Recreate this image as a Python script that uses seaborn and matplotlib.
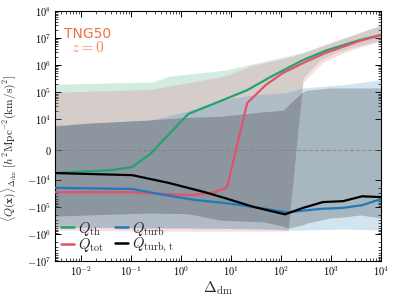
import numpy as np
import pandas as pd
import matplotlib
matplotlib.use("Agg")
import matplotlib.pyplot as plt
import seaborn as sns
from matplotlib.ticker import SymmetricalLogLocator, LogLocator, NullFormatter, FixedLocator, FixedFormatter
from matplotlib.lines import Line2D

# ---------------- data ----------------
th_x = [3.0e-3, 0.042, 0.105, 0.24, 1.38, 7.6, 21, 60, 275, 830, 3800, 1e4]
th_y = [-7.8e3, -6.8e3, -5.8e3, -1.5e3, 1.58e4, 5.6e4, 1.2e5, 3.6e5, 1.55e6, 3.6e6, 8.5e6, 1.3e7]

tot_x = [3.0e-3, 0.105, 0.48, 1.66, 4.8, 8.3, 21, 50, 110, 275, 760, 3800, 1e4]
tot_y = [-2.9e4, -2.9e4, -3.4e4, -3.7e4, -2.9e4, -1.9e4, 4.0e4, 1.9e5, 5.2e5, 1.2e6, 2.8e6, 8.0e6, 1.3e7]

turb_x = [3.0e-3, 0.105, 0.48, 1.9, 7.6, 27.5, 132, 600, 1740, 4200, 1e4]
turb_y = [-2.0e4, -2.2e4, -3.7e4, -5.6e4, -7.3e4, -1.0e5, -1.6e5, -1.2e5, -1.1e5, -8.7e4, -5.2e4]

turbt_x = [3.0e-3, 0.105, 0.55, 3.0, 7.6, 27.5, 120, 275, 690, 1740, 4200, 1e4]
turbt_y = [-7.8e3, -8.5e3, -1.3e4, -2.9e4, -4.8e4, -1.0e5, -1.9e5, -1.1e5, -6.7e4, -6.2e4, -4.1e4, -4.4e4]

# scatter bands (lower / upper)
th_band_x = [3.0e-3, 0.26, 0.6, 7.6, 60, 138, 275, 600, 1300, 2400, 1e4]
th_lo = [-5.6e5, -6.0e5, -6.0e5, -6.2e5, -6.5e5, -7.0e5, 3.4e5, 1.55e6, 3.0e6, 4.3e6, 8.5e6]
th_hi = [2.0e5, 2.4e5, 4.0e5, 6.6e5, 1.55e6, 2.2e6, 3.0e6, 4.7e6, 7.7e6, 1.2e7, 3.0e7]

tot_band_x = [3.0e-3, 0.26, 7.6, 27.5, 138, 275, 690, 1300, 2400, 1e4]
tot_lo = [-7.2e5, -7.9e5, -7.9e5, -7.9e5, -7.9e5, 2.4e5, 1.3e6, 2.2e6, 3.6e6, 7.8e6]
tot_hi = [1.0e5, 1.3e5, 4.0e5, 1.0e6, 1.9e6, 2.8e6, 5.6e6, 8.5e6, 1.2e7, 3.0e7]

turb_band_x = [3.0e-3, 0.24, 1.2, 7.6, 27.5, 132, 275, 1740, 1e4]
turb_lo = [-5.6e5, -6.1e5, -6.1e5, -6.3e5, -6.6e5, -7.2e5, -7.2e5, -6.6e5, -7.2e5]
turb_hi = [8.1e3, 9.8e3, 1.9e4, 5.6e4, 7.9e4, 1.0e5, 1.45e5, 1.9e5, 2.9e5]

turbt_band_x = [3.0e-3, 0.014, 0.22, 1.38, 6.0, 44, 110, 138, 263, 330, 955, 1740, 3800, 1e4]
turbt_lo = [-2.2e5, -2.0e5, -1.7e5, -1.8e5, -3.1e5, -3.6e5, -5.2e5, -6.1e5, -4.7e5, -4.0e5,
            -2.6e5, -2.4e5, -2.0e5, -2.6e5]
turbt_hi = [7.8e3, 8.8e3, 9.8e3, 1.2e4, 1.3e4, 1.9e4, 2.2e4, 3.3e4, 1.0e5, 1.2e5,
            1.45e5, 1.45e5, 1.45e5, 1.45e5]

series_names = ["th", "tot", "turb", "turbt"]
series_labels = [r"$Q_{\rm th}$", r"$Q_{\rm tot}$", r"$Q_{\rm turb}$", r"$Q_{\rm turb,\,t}$"]
series_colors = ["#23a26f", "#e0536b", "#2179b8", "#000000"]

y_ticks = [1e8, 1e7, 1e6, 1e5, 1e4, 0, -1e4, -1e5, -1e6, -1e7]
y_tick_labels = [r"$10^{8}$", r"$10^{7}$", r"$10^{6}$", r"$10^{5}$", r"$10^{4}$", r"$0$",
                 r"$-10^{4}$", r"$-10^{5}$", r"$-10^{6}$", r"$-10^{7}$"]
x_ticks = [1e-2, 1e-1, 1e0, 1e1, 1e2, 1e3, 1e4]
x_tick_labels = [r"$10^{-2}$", r"$10^{-1}$", r"$10^{0}$", r"$10^{1}$", r"$10^{2}$", r"$10^{3}$", r"$10^{4}$"]
x_limits = (3.0e-3, 1e4)
y_limits = (-1e7, 1e8)
lin_thresh = 1e4
zero_level = 0

# ---------------- build ----------------
sns.set_theme(style="ticks")
plt.rcParams["mathtext.fontset"] = "cm"
plt.rcParams["font.family"] = ["DejaVu Sans"]

lines = {"th": (th_x, th_y), "tot": (tot_x, tot_y), "turb": (turb_x, turb_y), "turbt": (turbt_x, turbt_y)}
bands = {"th": (th_band_x, th_lo, th_hi), "tot": (tot_band_x, tot_lo, tot_hi),
         "turb": (turb_band_x, turb_lo, turb_hi), "turbt": (turbt_band_x, turbt_lo, turbt_hi)}

rows = []
for name in series_names:
    xs, ys = lines[name]
    for xv, yv in zip(xs, ys):
        rows.append({"x": xv, "y": yv, "series": name})
df = pd.DataFrame(rows)

fig = plt.figure(figsize=(3.95, 2.98), dpi=100)
ax = fig.add_axes([55 / 395, 1 - 261 / 298, 326 / 395, 250 / 298])
ax.set_xscale("log")
ax.set_yscale("symlog", linthresh=lin_thresh, linscale=1)

for name, col in zip(series_names, series_colors):
    bx, lo, hi = bands[name]
    ax.fill_between(bx, lo, hi, color=col, alpha=0.2, lw=0, zorder=1)

ax.axhline(zero_level, color="gray", ls="--", lw=0.8, alpha=0.7, zorder=2)

palette = dict(zip(series_names, series_colors))
sns.lineplot(data=df, x="x", y="y", hue="series", palette=palette, sort=False,
             estimator=None, lw=1.6, legend=False, ax=ax, zorder=3)

ax.set_xlim(*x_limits)
ax.set_ylim(*y_limits)
ax.yaxis.set_major_locator(FixedLocator(y_ticks))
ax.yaxis.set_major_formatter(FixedFormatter(y_tick_labels))
ax.yaxis.set_minor_locator(SymmetricalLogLocator(linthresh=lin_thresh, base=10, subs=np.arange(2, 10)))
ax.xaxis.set_major_locator(FixedLocator(x_ticks))
ax.xaxis.set_major_formatter(FixedFormatter(x_tick_labels))
ax.xaxis.set_minor_locator(LogLocator(base=10, subs=np.arange(2, 10), numticks=50))
ax.xaxis.set_minor_formatter(NullFormatter())
ax.tick_params(which="both", direction="in", top=True, right=True, labelsize=7.5, colors="black", pad=2.5)
ax.tick_params(which="major", length=4, width=0.7)
ax.tick_params(which="minor", length=2, width=0.5)
for s in ax.spines.values():
    s.set_color("black")
    s.set_linewidth(0.8)

ax.set_xlabel(r"$\Delta_{\rm dm}$", fontsize=11, labelpad=1)
ax.set_ylabel(r"$\langle Q(\mathbf{x})\rangle_{\Delta_{\rm dm}}\ [h^2{\rm Mpc}^{-2}({\rm km/s})^2]$",
              fontsize=8.2)
ax.yaxis.set_label_coords(-0.113, 0.45)

ax.text(0.1, 0.91, "TNG50", transform=ax.transAxes, ha="center", va="center",
        fontsize=10, color="#ef6f47")
ax.text(0.1, 0.855, r"$z=0$", transform=ax.transAxes, ha="center", va="center",
        fontsize=11, color="#f08a5d")

handles = [Line2D([0], [0], color=c, lw=1.8) for c in series_colors]
ax.legend(handles, series_labels, ncol=2, loc="lower left", frameon=False, fontsize=10.5,
          handlelength=0.9, handletextpad=0.3, columnspacing=0.7, labelspacing=-0.1,
          borderaxespad=0.0)

fig.savefig("out.png", dpi=100)
